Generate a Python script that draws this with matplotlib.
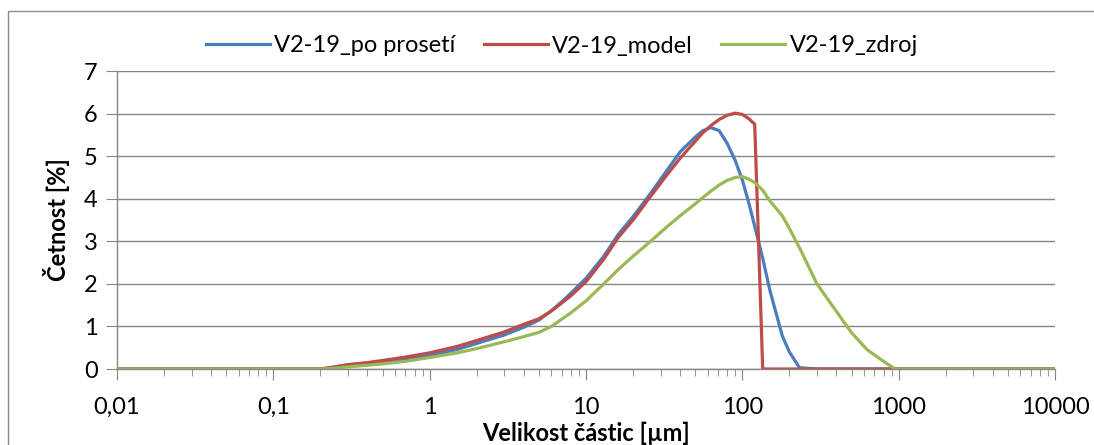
import matplotlib
matplotlib.use("Agg")
import matplotlib.pyplot as plt
from matplotlib.patches import Rectangle
from matplotlib.ticker import FixedLocator, LogLocator, NullFormatter

plt.rcParams['font.family'] = ['Lato', 'DejaVu Sans']

# velikost castic [um]
size = [0.01, 0.2, 0.25, 0.3, 0.4, 0.5, 0.7, 1, 1.5, 2, 3, 4, 5, 6, 7, 8, 10,
        13, 16, 20, 25, 32, 40, 50, 56, 63, 71, 80, 90, 100, 110, 120, 135,
        150, 180, 200, 232, 300, 400, 500, 630, 800, 950, 10000]

po_preseti = [0, 0, 0.05, 0.1, 0.14, 0.18, 0.24, 0.32, 0.46, 0.6, 0.8, 0.98,
              1.15, 1.37, 1.58, 1.78, 2.13, 2.65, 3.15, 3.58, 4.05, 4.6, 5.1,
              5.45, 5.6, 5.67, 5.6, 5.3, 4.9, 4.44, 3.9, 3.35, 2.6, 1.85,
              0.78, 0.4, 0.03, 0, 0, 0, 0, 0, 0, 0]

model = [0, 0, 0.05, 0.1, 0.15, 0.2, 0.28, 0.38, 0.53, 0.67, 0.87, 1.05,
         1.18, 1.36, 1.55, 1.72, 2.05, 2.58, 3.08, 3.5, 3.98, 4.5, 4.95,
         5.35, 5.55, 5.72, 5.86, 5.96, 6.01, 5.98, 5.88, 5.75, 0, 0, 0, 0,
         0, 0, 0, 0, 0, 0, 0, 0]

zdroj = [0, 0, 0.02, 0.05, 0.09, 0.12, 0.18, 0.27, 0.38, 0.48, 0.64, 0.76,
         0.86, 1.0, 1.17, 1.32, 1.6, 2.0, 2.33, 2.65, 2.95, 3.3, 3.6, 3.88,
         4.03, 4.18, 4.32, 4.43, 4.5, 4.52, 4.46, 4.38, 4.2, 3.95, 3.6, 3.3,
         2.85, 2.0, 1.35, 0.85, 0.45, 0.18, 0.0, 0.0]

xticks = [0.01, 0.1, 1, 10, 100, 1000, 10000]
xtick_labels = ['0,01', '0,1', '1', '10', '100', '1000', '10000']

fig = plt.figure(figsize=(10.94, 4.45), dpi=100)
ax = fig.add_axes([117/1094, 1 - 369/445, (1055-117)/1094, (369-71)/445])

# ramecek grafu (jako v Excelu)
fig.patches.append(Rectangle((8/1094, -0.1), 1.2, 1 - 11/445 + 0.1,
                             transform=fig.transFigure, fill=False,
                             edgecolor='#8c8c8c', linewidth=1))

grey = '#868686'
ax.plot(size, po_preseti, color='#4a7ebb', lw=2.3, label='V2-19_po prosetí')
ax.plot(size, model, color='#be4b48', lw=2.3, label='V2-19_model')
ax.plot(size, zdroj, color='#98b954', lw=2.3, label='V2-19_zdroj')

ax.set_xscale('log')
ax.set_xlim(0.01, 10000)
ax.set_ylim(0, 7)
ax.xaxis.set_major_locator(FixedLocator(xticks))
ax.set_xticklabels(xtick_labels)
ax.xaxis.set_minor_locator(LogLocator(base=10, subs=range(2, 10)))
ax.xaxis.set_minor_formatter(NullFormatter())
ax.set_yticks(range(0, 8))

ax.grid(axis='y', color=grey, linewidth=1)
ax.set_axisbelow(True)
for s in ['top', 'right']:
    ax.spines[s].set_visible(False)
for s in ['left', 'bottom']:
    ax.spines[s].set_color(grey)
    ax.spines[s].set_linewidth(1)

ax.tick_params(axis='both', which='major', length=8, color=grey,
               labelsize=17, direction='out')
ax.tick_params(axis='x', which='minor', length=5, color=grey, direction='out')
ax.tick_params(axis='x', which='major', pad=12)
ax.tick_params(axis='y', which='major', pad=6)

ax.set_xlabel('Velikost částic [µm]', fontsize=17, fontweight='bold')
ax.xaxis.set_label_coords(0.5, -0.178)
ax.set_ylabel('Četnost [%]', fontsize=17, fontweight='bold', labelpad=10)

fig.legend(loc='center', bbox_to_anchor=(562/1094, 1 - 46/445), ncol=3,
           frameon=False, fontsize=17, handlelength=2.7, handletextpad=0.2,
           columnspacing=1.2)

fig.savefig('out.png', dpi=100)
